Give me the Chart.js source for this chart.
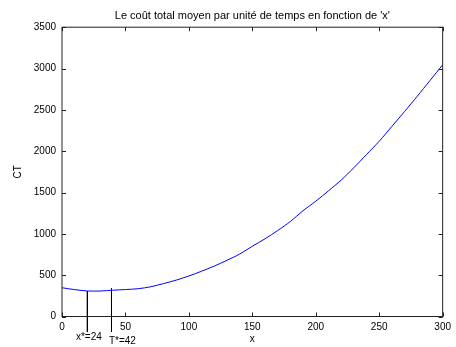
<!DOCTYPE html>
<html>
<head>
<meta charset="utf-8">
<script src="https://cdn.jsdelivr.net/npm/chart.js@4"></script>
<style>
  html, body { margin: 0; padding: 0; background: #fff; }
  #wrap { width: 456px; height: 347px; position: relative; }
</style>
</head>
<body>
<div id="wrap"><canvas id="myChart" width="456" height="347"></canvas></div>
<script>
// values
const xValues = [0, 10, 20, 30, 40, 50, 60, 70, 80, 90, 100, 110, 120, 130, 140, 150,
  160, 170, 180, 190, 200, 210, 220, 230, 240, 250, 260, 270, 280, 290, 300];
const ctValues = [348, 325, 309, 308, 318, 326, 336, 360, 398, 440, 490, 548, 610, 680, 755, 850,
  940, 1040, 1150, 1280, 1395, 1520, 1650, 1800, 1960, 2120, 2300, 2480, 2665, 2855, 3045];

// the two marked optima: line position, top of line, label text, label anchor
const markerX = [20, 39];
const markerTop = [308, 340];
const markerBottom = [-187, -187];
const markerLabels = ['x*=24', 'T*=42'];
const markerLabelX = [11, 37];
const markerLabelY = [-284, -329];

const titleText = "Le coût total moyen par unité de temps en fonction de 'x'";
const FONT = '"Liberation Sans", Arial, sans-serif';

const curve = xValues.map((x, i) => ({ x: x, y: ctValues[i] }));

const markerSets = markerX.map((x, i) => ({
  data: [{ x: x, y: markerTop[i] }, { x: x, y: markerBottom[i] }],
  borderColor: '#000',
  borderWidth: 1,
  pointRadius: 0,
  clip: false,
}));

// MATLAB-like box with inward ticks and the marker labels
const boxPlugin = {
  id: 'box',
  afterDraw(chart) {
    const { ctx, chartArea: a, scales } = chart;
    ctx.save();
    ctx.strokeStyle = '#222';
    ctx.lineWidth = 1;
    ctx.strokeRect(a.left, a.top, a.right - a.left, a.bottom - a.top);
    ctx.beginPath();
    scales.x.ticks.forEach(t => {
      const px = Math.round(scales.x.getPixelForValue(t.value)) + 0.5;
      ctx.moveTo(px, a.bottom); ctx.lineTo(px, a.bottom - 4);
      ctx.moveTo(px, a.top); ctx.lineTo(px, a.top + 4);
    });
    scales.y.ticks.forEach(t => {
      const py = Math.round(scales.y.getPixelForValue(t.value)) + 0.5;
      ctx.moveTo(a.left, py); ctx.lineTo(a.left + 4, py);
      ctx.moveTo(a.right, py); ctx.lineTo(a.right - 4, py);
    });
    ctx.stroke();

    ctx.fillStyle = '#000';
    ctx.font = '10px ' + FONT;
    ctx.textAlign = 'left';
    ctx.textBaseline = 'alphabetic';
    markerLabels.forEach((txt, i) => {
      ctx.fillText(txt, scales.x.getPixelForValue(markerLabelX[i]), scales.y.getPixelForValue(markerLabelY[i]));
    });
    ctx.restore();
  }
};

new Chart(document.getElementById('myChart').getContext('2d'), {
  type: 'line',
  data: {
    datasets: [{
      data: curve,
      borderColor: '#0000ff',
      borderWidth: 1,
      pointRadius: 0,
      tension: 0.3,
    }, ...markerSets],
  },
  options: {
    responsive: false,
    animation: false,
    layout: { padding: { left: 0, right: 12, top: 0, bottom: 0 } },
    plugins: {
      legend: { display: false },
      tooltip: { enabled: false },
      title: {
        display: true,
        fullSize: false,
        text: titleText,
        color: '#000',
        font: { family: FONT, size: 11, weight: 'normal' },
        padding: { top: 9, bottom: 5 },
      },
    },
    scales: {
      x: {
        type: 'linear',
        min: 0,
        max: 300,
        grid: { display: false, drawTicks: false },
        border: { display: false },
        ticks: { stepSize: 50, color: '#000', padding: 5, font: { family: FONT, size: 10 }, maxRotation: 0,
          callback: v => String(v) },
        title: { display: true, text: 'x', color: '#000', font: { family: FONT, size: 10 }, padding: { top: 0, bottom: 2 } },
        afterFit: s => { s.height = 30.5; },
      },
      y: {
        min: 0,
        max: 3500,
        grid: { display: false, drawTicks: false },
        border: { display: false },
        ticks: { stepSize: 500, color: '#000', padding: 6, font: { family: FONT, size: 10 },
          callback: v => String(v) },
        title: { display: true, text: 'CT', color: '#000', font: { family: FONT, size: 10 }, padding: { top: 12, bottom: 0 } },
        afterFit: s => { s.width = 62; },
      },
    },
  },
  plugins: [boxPlugin],
});
</script>
</body>
</html>
